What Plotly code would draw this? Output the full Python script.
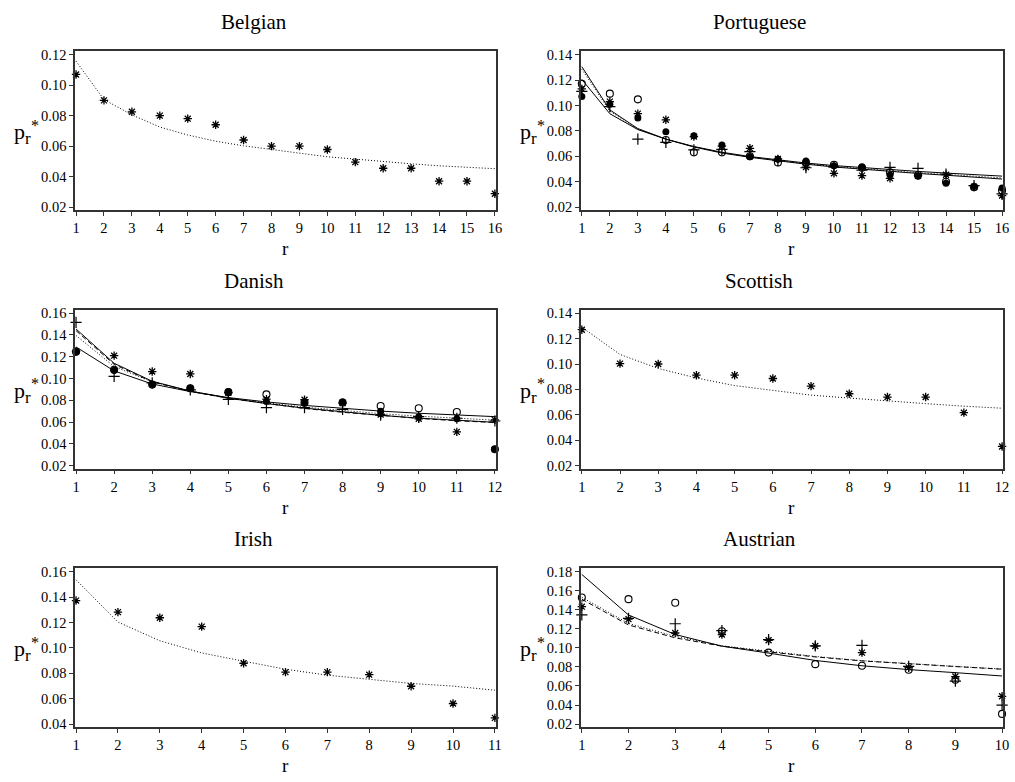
import plotly.graph_objects as go

# ---------------- data ----------------
panel_names = ["Belgian", "Portuguese", "Danish", "Scottish", "Irish", "Austrian"]

belgian_r = list(range(1, 17))
belgian_obs = [0.107, 0.090, 0.0825, 0.080, 0.078, 0.074, 0.064, 0.060, 0.060, 0.0578,
               0.0495, 0.0455, 0.0455, 0.037, 0.037, 0.0288]
belgian_fit = [0.1157, 0.0905, 0.0805, 0.0725, 0.0673, 0.0632, 0.0602, 0.0577, 0.0552, 0.0530,
               0.0515, 0.0497, 0.0484, 0.0471, 0.0460, 0.0452]

portuguese_r = list(range(1, 17))
portuguese_star = [0.113, 0.103, 0.0936, 0.0887, 0.0755, 0.068, 0.0663, 0.058, 0.0515, 0.0466,
                   0.0448, 0.0427, 0.0448, 0.0455, 0.036, 0.0291]
portuguese_plus = [0.111, 0.099, 0.0735, 0.0709, 0.065, 0.0655, 0.0636, 0.0565, 0.0510, 0.0515,
                   0.0490, 0.0513, 0.0505, 0.0460, 0.0370, 0.0305]
portuguese_open = [0.117, 0.1093, 0.1048, 0.0728, 0.0631, 0.0631, 0.0600, 0.0552, 0.0548, 0.0534,
                   0.0510, 0.0474, 0.0453, 0.0400, 0.0356, 0.0330]
portuguese_filled = [0.107, 0.101, 0.0902, 0.0793, 0.0762, 0.0689, 0.0597, 0.0577, 0.0562, 0.0526,
                     0.0518, 0.0452, 0.0442, 0.0387, 0.0362, 0.0351]
portuguese_fit1 = [0.1305, 0.0965, 0.0818, 0.0735, 0.0673, 0.0626, 0.0592, 0.0563, 0.0538, 0.0516,
                   0.0497, 0.0480, 0.0465, 0.0451, 0.0436, 0.0421]
portuguese_fit2 = [0.1285, 0.0955, 0.0815, 0.0735, 0.0675, 0.0628, 0.0595, 0.0566, 0.0542, 0.0521,
                   0.0502, 0.0486, 0.0471, 0.0458, 0.0445, 0.0430]
portuguese_fit3 = [0.1205, 0.0935, 0.0810, 0.0735, 0.0677, 0.0632, 0.0598, 0.0570, 0.0547, 0.0527,
                   0.0510, 0.0495, 0.0481, 0.0468, 0.0456, 0.0444]

danish_r = list(range(1, 13))
danish_star = [0.125, 0.121, 0.1064, 0.1042, 0.087, 0.081, 0.0805, 0.0775, 0.067, 0.063, 0.051, 0.062]
danish_plus = [0.1516, 0.1019, 0.0960, 0.0895, 0.0809, 0.0733, 0.0733, 0.0717, 0.0663, 0.0650, 0.0635, 0.061]
danish_open = [0.1245, 0.108, 0.0944, 0.0910, 0.0875, 0.0854, 0.0778, 0.0780, 0.0748, 0.0727, 0.0693, 0.035]
danish_filled = [0.1245, 0.1075, 0.0944, 0.0910, 0.0879, 0.0790, 0.0775, 0.0784, 0.0700, 0.0650, 0.0630, 0.035]
danish_fit1 = [0.1455, 0.1140, 0.0975, 0.0885, 0.0820, 0.0770, 0.0728, 0.0692, 0.0662, 0.0636, 0.0614, 0.0598]
danish_fit2 = [0.1395, 0.1110, 0.0970, 0.0885, 0.0822, 0.0775, 0.0737, 0.0705, 0.0677, 0.0654, 0.0634, 0.0618]
danish_fit3 = [0.1290, 0.1070, 0.0950, 0.0880, 0.0825, 0.0785, 0.0753, 0.0725, 0.0701, 0.0681, 0.0664, 0.0650]
danish_fit4 = [0.1440, 0.1130, 0.0970, 0.0882, 0.0818, 0.0768, 0.0725, 0.0690, 0.0660, 0.0634, 0.0612, 0.0596]

scottish_r = list(range(1, 13))
scottish_obs = [0.127, 0.1003, 0.100, 0.0912, 0.0912, 0.0886, 0.0826, 0.0766, 0.074, 0.074, 0.0617, 0.0351]
scottish_fit = [0.129, 0.1075, 0.0965, 0.0890, 0.0830, 0.0790, 0.0755, 0.0732, 0.0708, 0.0688, 0.0668, 0.0652]

irish_r = list(range(1, 12))
irish_obs = [0.1372, 0.1281, 0.1237, 0.1167, 0.0879, 0.0809, 0.0809, 0.0789, 0.0698, 0.0562, 0.0449]
irish_fit = [0.1535, 0.1203, 0.1056, 0.0960, 0.0895, 0.0832, 0.0785, 0.0752, 0.0720, 0.0699, 0.0667]

austrian_r = list(range(1, 11))
austrian_star = [0.1432, 0.1301, 0.1156, 0.1139, 0.1080, 0.1019, 0.0950, 0.0795, 0.0699, 0.0492]
austrian_plus = [0.1346, 0.1310, 0.1253, 0.1180, 0.1087, 0.1020, 0.1026, 0.0805, 0.0650, 0.0400]
austrian_open = [0.1528, 0.1511, 0.1473, 0.1174, 0.0950, 0.0829, 0.0812, 0.0770, 0.0665, 0.0307]
austrian_fit1 = [0.177, 0.1345, 0.1140, 0.1018, 0.0945, 0.0868, 0.0812, 0.0772, 0.0740, 0.0705]
austrian_fit2 = [0.1530, 0.1256, 0.1120, 0.1022, 0.0965, 0.0910, 0.0866, 0.0833, 0.0806, 0.0778]
austrian_fit3 = [0.1510, 0.1240, 0.1105, 0.1018, 0.0958, 0.0905, 0.0863, 0.0830, 0.0804, 0.0776]

# y tick limits per panel (min tick, max tick)
y_tick_limits = [(0.02, 0.12), (0.02, 0.14), (0.02, 0.16), (0.02, 0.14), (0.04, 0.16), (0.02, 0.18)]

x_label = "r"
y_label_parts = ["p", "r", "*"]   # p with subscript r and superscript *

# ---------------- styling ----------------
FONT = "Liberation Serif, Times New Roman, serif"
W, H = 1015, 782
col_px = [(72.7, 497.3), (583.0, 1009.0)]
row_px = [(47.7, 208.5), (309.3, 470.0), (570.7, 731.5)]
title_x_px = [253, 763]
AX_COLOR = "#333333"

MARK = {
    "star": dict(symbol="asterisk-open", size=7, color="black", line=dict(width=1.3, color="black")),
    "plus": dict(symbol="cross-thin-open", size=8, color="black", line=dict(width=1.2, color="black")),
    "open": dict(symbol="circle-open", size=7, color="black", line=dict(width=1.1, color="black")),
    "filled": dict(symbol="circle", size=7, color="black", line=dict(width=0, color="black")),
}
LINE = {
    "solid": dict(color="black", width=1, dash="solid"),
    "dot": dict(color="black", width=1, dash="1px,2px"),
    "dash": dict(color="black", width=1, dash="5px,3px"),
}

# (text, left edge offset px, vertical offset from panel centre px, font size)
y_label_layout = [(y_label_parts[0], 11.0, 0.0, 22),
                  (y_label_parts[1], 22.5, 7.0, 17),
                  (y_label_parts[2], 28.6, -6.5, 16)]

panels = [
    (belgian_r, [("star", belgian_obs)], [("dot", belgian_fit)]),
    (portuguese_r,
     [("star", portuguese_star), ("plus", portuguese_plus), ("open", portuguese_open), ("filled", portuguese_filled)],
     [("solid", portuguese_fit1), ("dot", portuguese_fit2), ("solid", portuguese_fit3)]),
    (danish_r,
     [("star", danish_star), ("plus", danish_plus), ("open", danish_open), ("filled", danish_filled)],
     [("solid", danish_fit1), ("dot", danish_fit2), ("solid", danish_fit3), ("dash", danish_fit4)]),
    (scottish_r, [("star", scottish_obs)], [("dot", scottish_fit)]),
    (irish_r, [("star", irish_obs)], [("dot", irish_fit)]),
    (austrian_r,
     [("star", austrian_star), ("plus", austrian_plus), ("open", austrian_open)],
     [("solid", austrian_fit1), ("dot", austrian_fit2), ("dash", austrian_fit3)]),
]

fig = go.Figure()
annotations = []
layout = {}

for i, (rvals, obs_series, fit_series) in enumerate(panels):
    row, col = divmod(i, 2)
    xa = "x" if i == 0 else f"x{i+1}"
    ya = "y" if i == 0 else f"y{i+1}"
    for style, vals in fit_series:
        fig.add_trace(go.Scatter(x=rvals, y=vals, mode="lines", line=LINE[style],
                                 xaxis=xa, yaxis=ya, showlegend=False, cliponaxis=False,
                                 hoverinfo="skip"))
    for style, vals in obs_series:
        fig.add_trace(go.Scatter(x=rvals, y=vals, mode="markers", marker=MARK[style],
                                 xaxis=xa, yaxis=ya, showlegend=False, cliponaxis=False,
                                 hoverinfo="skip"))

    x0, x1 = col_px[col]
    y0, y1 = row_px[row]
    n = max(rvals)
    ppu_x = (x1 - x0 - 2.0) / (n - 1)
    ymin, ymax = y_tick_limits[i]
    ppu_y = (y1 - y0 - 6.5) / (ymax - ymin)

    common = dict(showline=True, mirror=True, linecolor=AX_COLOR, linewidth=1.5,
                  ticks="outside", ticklen=4, tickwidth=1, tickcolor=AX_COLOR,
                  showgrid=False, zeroline=False,
                  tickfont=dict(family=FONT, size=14.5, color="black"))
    layout["xaxis" if i == 0 else f"xaxis{i+1}"] = dict(
        domain=[x0 / W, x1 / W], anchor=ya,
        range=[1 - 1.0 / ppu_x, n + 1.0 / ppu_x],
        tickmode="linear", tick0=1, dtick=1, **common)
    layout["yaxis" if i == 0 else f"yaxis{i+1}"] = dict(
        domain=[1 - y1 / H, 1 - y0 / H], anchor=xa,
        range=[ymin - 3.0 / ppu_y, ymax + 3.5 / ppu_y],
        tickmode="linear", tick0=ymin, dtick=0.02, tickformat=".2f", **common)

    # panel title
    annotations.append(dict(text=panel_names[i], xref="paper", yref="paper",
                            x=title_x_px[col] / W, y=1 - (y0 - 29.5) / H,
                            xanchor="center", yanchor="middle", showarrow=False,
                            font=dict(family=FONT, size=21, color="black")))
    # x axis label "r"
    annotations.append(dict(text=x_label, xref="paper", yref="paper",
                            x=(x0 + x1) / 2 / W, y=1 - (y1 + 39) / H,
                            xanchor="center", yanchor="middle", showarrow=False,
                            font=dict(family=FONT, size=19, color="black")))
    # y axis label p_r^*  (three pieces placed side by side)
    yc = (y0 + y1) / 2 + 1
    shift = x0 - 72.7
    for txt, dx, dy, fs in y_label_layout:
        annotations.append(dict(text=txt, xref="paper", yref="paper",
                                x=(dx + shift) / W, y=1 - (yc + dy) / H,
                                xanchor="left", yanchor="middle", showarrow=False,
                                borderpad=0, borderwidth=0,
                                font=dict(family=FONT, size=fs, color="black")))

fig.update_layout(
    width=W, height=H,
    margin=dict(l=0, r=0, t=0, b=0),
    paper_bgcolor="white", plot_bgcolor="white",
    font=dict(family=FONT, color="black"),
    annotations=annotations,
    hovermode=False,
    **layout,
)

fig.write_html("out.html", config={"displayModeBar": False},
               post_script="document.body.style.margin='0px';document.body.style.overflow='hidden';")
